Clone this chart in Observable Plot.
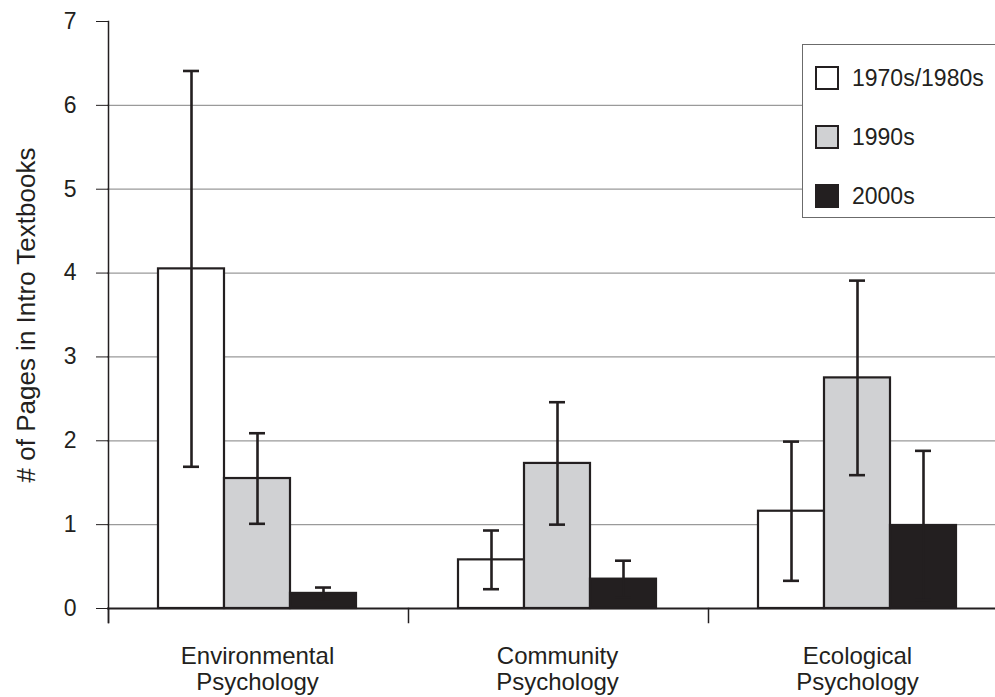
<!DOCTYPE html>
<html>
<head>
<meta charset="utf-8">
<script src="https://cdn.jsdelivr.net/npm/d3@7"></script>
<script src="https://cdn.jsdelivr.net/npm/@observablehq/plot@0.6"></script>
<style>
  html, body { margin: 0; padding: 0; background: #fff; }
  #wrap { position: relative; width: 995px; height: 697px; overflow: hidden; font-family: "Liberation Sans", Arial, sans-serif; color: #231f20; }
  #legend { position: absolute; left: 802px; top: 44px; width: 210px; height: 174px; border: 1px solid #6b6b6b; background: #fff; box-sizing: border-box; }
  .item { position: absolute; left: 12px; height: 24px; display: flex; align-items: center; font-size: 23px; white-space: nowrap; }
  .sw { width: 20px; height: 20px; border: 2px solid #231f20; margin-right: 13px; }
</style>
</head>
<body>
<div id="wrap">
  <div id="chart"></div>
  <div id="legend"></div>
</div>
<script>
// ---- data ----
const categories = ["Environmental\nPsychology", "Community\nPsychology", "Ecological\nPsychology"];
const series = ["1970s/1980s", "1990s", "2000s"];
const mean1970s = [4.05, 0.58, 1.16];
const mean1990s = [1.55, 1.73, 2.75];
const mean2000s = [0.18, 0.35, 0.99];
const err1970s = [2.36, 0.35, 0.83];
const err1990s = [0.54, 0.73, 1.16];
const err2000s = [0.07, 0.22, 0.89];
const yTicks = [0, 1, 2, 3, 4, 5, 6, 7];
const gridTicks = [1, 2, 3, 4, 5, 6];
const yTitle = "# of Pages in Intro Textbooks";
const colors = ["#ffffff", "#d0d1d3", "#231f20"];

const means = [mean1970s, mean1990s, mean2000s];
const errs = [err1970s, err1990s, err2000s];
const rows = [];
categories.forEach((c, ci) => {
  series.forEach((s, si) => {
    const m = means[si][ci], e = errs[si][ci];
    rows.push({cat: c, series: s, value: m, lo: m - e, hi: m + e});
  });
});

const ink = "#231f20";
const chart = Plot.plot({
  width: 995,
  height: 697,
  marginTop: 21,
  marginBottom: 89,
  marginLeft: 106,
  marginRight: -12,
  style: {fontFamily: '"Liberation Sans", Arial, sans-serif', color: ink, background: "#fff"},
  fx: {domain: categories, padding: 0, label: null, axis: null},
  x: {domain: series, paddingInner: 0, paddingOuter: 0.75, axis: null},
  y: {domain: [0, 7], axis: null},
  color: {domain: series, range: colors},
  marks: [
    Plot.gridY(gridTicks, {stroke: "#9a9a9a", strokeOpacity: 1, strokeWidth: 1.2}),
    Plot.barY(rows, {fx: "cat", x: "series", y: "value", fill: "series", stroke: ink, strokeWidth: 2.2}),
    Plot.ruleX(rows, {fx: "cat", x: "series", y1: "lo", y2: "hi", stroke: ink, strokeWidth: 2.6}),
    Plot.tickY(rows, {fx: "cat", x: "series", y: "hi", stroke: ink, strokeWidth: 2.6, insetLeft: 25, insetRight: 25}),
    Plot.tickY(rows, {fx: "cat", x: "series", y: "lo", stroke: ink, strokeWidth: 2.6, insetLeft: 25, insetRight: 25}),
    Plot.ruleY([0], {stroke: ink, strokeWidth: 2}),
    Plot.frame({anchor: "left", facetAnchor: "left", stroke: ink, strokeWidth: 1.5, insetBottom: -14, dx: 1}),
    Plot.frame({anchor: "left", stroke: ink, strokeWidth: 1.5, insetTop: 587, insetBottom: -14, dx: 1}),
    Plot.axisY({
      ticks: yTicks, tickFormat: d3.format("d"), tickSize: 12, tickPadding: 20, fontSize: 23,
      stroke: ink, fill: ink, label: null, dx: 1
    }),
    Plot.text([yTitle], {
      text: d => d, frameAnchor: "left", facetAnchor: "left", rotate: -90,
      textAnchor: "middle", lineAnchor: "top",
      dx: -91, fontSize: 26, fill: ink
    }),
    Plot.axisFx({anchor: "bottom", tickSize: 0, tickPadding: 36, fontSize: 24, lineHeight: 1.12, label: null, fill: ink})
  ]
});
document.getElementById("chart").appendChild(chart);

// ---- legend ----
const legend = document.getElementById("legend");
const tops = [21, 80, 139];
series.forEach((s, i) => {
  const it = document.createElement("div");
  it.className = "item";
  it.style.top = tops[i] + "px";
  const sw = document.createElement("div");
  sw.className = "sw";
  sw.style.background = colors[i];
  const t = document.createElement("span");
  t.textContent = s;
  it.appendChild(sw);
  it.appendChild(t);
  legend.appendChild(it);
});
</script>
</body>
</html>
